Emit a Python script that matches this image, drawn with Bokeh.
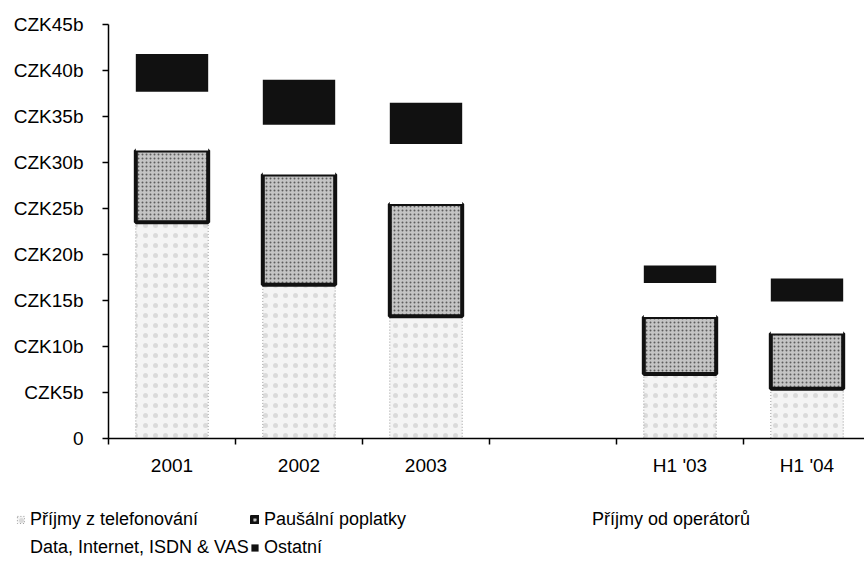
from bokeh.plotting import figure
from bokeh.models import ColumnDataSource, FixedTicker, Legend, LegendItem, Range1d
from bokeh.transform import stack
from bokeh.embed import file_html
from bokeh.resources import INLINE

# ---- data (CZK billions) ----
categories = ["2001", "2002", "2003", "H1 '03", "H1 '04"]
slots = [0, 1, 2, 4, 5]  # slot 3 is left empty between the years and the half-years
telefonovani = [23.5, 16.7, 13.3, 7.0, 5.4]
pausalni = [7.8, 12.0, 12.2, 6.2, 6.0]
operatori = [3.4, 2.9, 3.5, 2.0, 1.9]
data_vas = [3.0, 2.5, 3.0, 1.7, 1.6]
ostatni = [4.1, 4.9, 4.5, 1.9, 2.5]

series_names = ["Příjmy z telefonování", "Paušální poplatky", "Příjmy od operátorů",
                "Data, Internet, ISDN & VAS", "Ostatní"]
y_ticks = [0, 5, 10, 15, 20, 25, 30, 35, 40, 45]
y_tick_labels = ["0", "CZK5b", "CZK10b", "CZK15b", "CZK20b", "CZK25b",
                 "CZK30b", "CZK35b", "CZK40b", "CZK45b"]

x_centers = [s + 0.5 for s in slots]
boundaries = list(range(max(slots) + 2))

src = ColumnDataSource(dict(
    x=x_centers, cat=categories,
    tel=telefonovani, pau=pausalni, ope=operatori, dat=data_vas, ost=ostatni,
))

FONT = "Liberation Sans"
W, H = 864, 564
# pixel geometry of the plotting area
X0_PX, SLOT_PX = 108, 127          # screen x of value-axis, width of one category slot
Y0_PX, UNIT_PX = 438, 9.2          # screen y of zero line, pixels per CZK 1b

x_range = Range1d(-X0_PX / SLOT_PX, (W - X0_PX) / SLOT_PX)
y_range = Range1d(-(H - Y0_PX) / UNIT_PX, Y0_PX / UNIT_PX)

p = figure(width=W, height=H, output_backend="svg", toolbar_location=None,
           x_range=x_range, y_range=y_range,
           min_border_left=0, min_border_right=0, min_border_top=0,
           min_border_bottom=0)
p.outline_line_color = None
p.grid.grid_line_color = None
p.background_fill_color = "white"

keys = ["tel", "pau", "ope", "dat", "ost"]
styles = [
    dict(fill_color="#f4f4f4", line_color="#9a9a9a", line_width=1, line_dash="1 2",
         hatch_pattern=".", hatch_color="#a0a0a0", hatch_scale=10, hatch_alpha=0.3),
    dict(fill_color="#c4c4c4", line_color="#111111", line_width=4, hatch_pattern=".",
         hatch_color="#444444", hatch_scale=4, hatch_alpha=0.8),
    dict(fill_color="white", line_color=None),
    dict(fill_color="white", line_color=None),
    dict(fill_color="#111111", line_color=None),
]

renderers = []
for i, (k, st) in enumerate(zip(keys, styles)):
    r = p.vbar(x="x", width=0.57, bottom=stack(*keys[:i]), top=stack(*keys[:i + 1]),
               source=src, **st)
    renderers.append(r)

# axes, fixed at the zero lines so the legend can live inside the frame
p.xaxis.fixed_location = 0
p.xaxis.bounds = (0, x_range.end)
p.xaxis.ticker = FixedTicker(ticks=x_centers, minor_ticks=boundaries)
p.xaxis.major_label_overrides = {x: c for x, c in zip(x_centers, categories)}
p.xaxis.major_tick_out = 0
p.xaxis.major_tick_in = 0
p.xaxis.minor_tick_out = 6
p.xaxis.minor_tick_in = 0
p.xaxis.minor_tick_line_color = "black"
p.xaxis.minor_tick_line_width = 1.5
p.xaxis.axis_line_color = "black"
p.xaxis.axis_line_width = 1.5
p.xaxis.major_label_standoff = 10

p.yaxis.fixed_location = 0
p.yaxis.bounds = (0, 45)
p.yaxis.ticker = FixedTicker(ticks=y_ticks)
p.yaxis.major_label_overrides = {t: l for t, l in zip(y_ticks, y_tick_labels)}
p.yaxis.major_tick_out = 6
p.yaxis.major_tick_in = 0
p.yaxis.major_tick_line_color = "black"
p.yaxis.major_tick_line_width = 1.5
p.yaxis.minor_tick_line_color = None
p.yaxis.axis_line_color = "black"
p.yaxis.axis_line_width = 1.5
p.yaxis.major_label_standoff = 19

for ax in (p.xaxis, p.yaxis):
    ax.major_label_text_font = FONT
    ax.major_label_text_font_size = "19px"
    ax.major_label_text_color = "black"

# legends (three columns, placed below the bars)
def add_legend(idx, loc):
    items = [LegendItem(label=series_names[i], renderers=[renderers[i]]) for i in idx]
    lg = Legend(items=items, location=loc, orientation="vertical",
                label_text_font=FONT, label_text_font_size="18px", label_text_color="black",
                glyph_width=9, glyph_height=9, label_standoff=5, label_height=21,
                spacing=7, padding=0, margin=0,
                border_line_alpha=0, background_fill_alpha=0)
    p.add_layout(lg, "center")

add_legend([0, 3], (16, 6))
add_legend([1, 4], (250, 6))
add_legend([2], (578, 34))

open("out.html", "w").write(file_html(p, INLINE))
